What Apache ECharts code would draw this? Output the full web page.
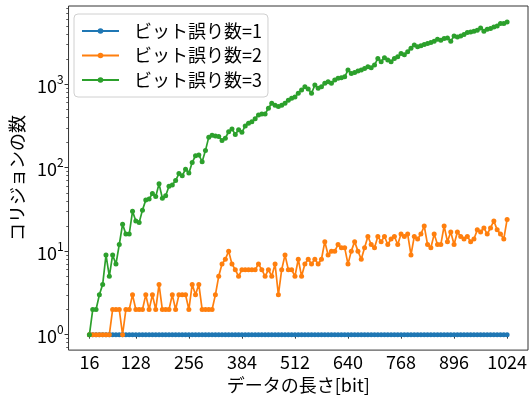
<!DOCTYPE html>
<html>
<head>
<meta charset="utf-8">
<script src="https://cdn.jsdelivr.net/npm/echarts@6/dist/echarts.min.js"></script>
<style>
  html, body { margin: 0; padding: 0; background: #fff; }
  #chart { width: 530px; height: 399px; }
</style>
</head>
<body>
<div id="chart"></div>
<script>
// Data length in bits (one measurement every 8 bits)
const lengths = [
  16, 24, 32, 40, 48, 56, 64, 72, 80, 88, 96, 104, 112, 120, 128, 136,
  144, 152, 160, 168, 176, 184, 192, 200, 208, 216, 224, 232, 240, 248, 256, 264,
  272, 280, 288, 296, 304, 312, 320, 328, 336, 344, 352, 360, 368, 376, 384, 392,
  400, 408, 416, 424, 432, 440, 448, 456, 464, 472, 480, 488, 496, 504, 512, 520,
  528, 536, 544, 552, 560, 568, 576, 584, 592, 600, 608, 616, 624, 632, 640, 648,
  656, 664, 672, 680, 688, 696, 704, 712, 720, 728, 736, 744, 752, 760, 768, 776,
  784, 792, 800, 808, 816, 824, 832, 840, 848, 856, 864, 872, 880, 888, 896, 904,
  912, 920, 928, 936, 944, 952, 960, 968, 976, 984, 992, 1000, 1008, 1016, 1024
];

// Number of collisions, 1-bit errors
const collisions1 = [
  1, 1, 1, 1, 1, 1, 1, 1, 1, 1, 1, 1, 1, 1, 1, 1,
  1, 1, 1, 1, 1, 1, 1, 1, 1, 1, 1, 1, 1, 1, 1, 1,
  1, 1, 1, 1, 1, 1, 1, 1, 1, 1, 1, 1, 1, 1, 1, 1,
  1, 1, 1, 1, 1, 1, 1, 1, 1, 1, 1, 1, 1, 1, 1, 1,
  1, 1, 1, 1, 1, 1, 1, 1, 1, 1, 1, 1, 1, 1, 1, 1,
  1, 1, 1, 1, 1, 1, 1, 1, 1, 1, 1, 1, 1, 1, 1, 1,
  1, 1, 1, 1, 1, 1, 1, 1, 1, 1, 1, 1, 1, 1, 1, 1,
  1, 1, 1, 1, 1, 1, 1, 1, 1, 1, 1, 1, 1, 1, 1
];

// Number of collisions, 2-bit errors
const collisions2 = [
  1, 1, 1, 1, 1, 1, 1, 2, 2, 2,
  1, 2, 2, 3, 2, 2, 2, 3, 2, 3,
  2, 4, 2, 2, 2, 3, 2, 3, 3, 3,
  2, 4, 3, 4, 2, 2, 2, 2, 3, 5,
  7, 8, 10, 7, 6, 5, 6, 6, 6, 6,
  6, 7, 6, 5, 6, 5, 7, 3, 6, 9,
  6, 6, 5, 8, 5, 7, 8, 7, 8, 7,
  8, 13, 9, 10, 10, 12, 11, 11, 7, 10,
  13, 10, 8, 11, 15, 12, 11, 15, 13, 15,
  12, 14, 15, 12, 16, 15, 16, 9, 15, 14,
  16, 20, 12, 11, 16, 12, 12, 20, 13, 17,
  12, 17, 15, 14, 15, 13, 14, 18, 17, 19,
  16, 19, 23, 18, 16, 14, 24
];

// Number of collisions, 3-bit errors
const collisions3 = [
  1, 2, 2, 3, 4, 9, 5, 9, 7, 12,
  21, 16, 16, 30, 23, 22, 31, 41, 42, 49,
  45, 64, 43, 46, 60, 62, 70, 85, 80, 96,
  86, 115, 139, 142, 118, 160, 232, 245, 240, 236,
  211, 225, 270, 290, 250, 285, 265, 316, 340, 355,
  385, 428, 440, 440, 514, 590, 560, 540, 560, 590,
  640, 676, 700, 780, 851, 931, 875, 777, 975, 891,
  931, 1022, 1068, 1022, 1119, 1173, 1194, 1225, 1473, 1345,
  1381, 1433, 1473, 1543, 1616, 1570, 1692, 2033, 1854, 2066,
  1941, 1854, 2033, 2124, 2329, 2250, 2450, 2700, 2950, 2800,
  2875, 2983, 3066, 3150, 3268, 3453, 3360, 3517, 3583, 3268,
  3785, 3681, 3785, 3926, 4150, 4226, 4304, 4424, 4715, 4304,
  4543, 4632, 4843, 4982, 5312, 5312, 5560
];

const seriesNames = ['ビット誤り数=1', 'ビット誤り数=2', 'ビット誤り数=3'];
const xTickValues = [16, 128, 256, 384, 512, 640, 768, 896, 1024];
const yDecadeExponents = [0, 1, 2, 3];

const colors = ['#1f77b4', '#ff7f0e', '#2ca02c'];
const FONT = '"Noto Sans CJK JP", "Noto Sans", sans-serif';

// Axis extents (x in bits, y in decades of the log scale)
const xMin = -34.4, xMax = 1074.4;
const yLogMin = -0.185, yLogMax = 3.936;

// Minor ticks of a base-10 log axis: 2..9 x 10^n, expressed in decades
const minorDecades = [];
for (let n = -1; n <= 3; n++) {
  for (let k = 2; k <= 9; k++) {
    const d = Math.log10(k * Math.pow(10, n));
    if (d > yLogMin && d < yLogMax) minorDecades.push(d);
  }
}

const collisionSets = [collisions1, collisions2, collisions3];

const chart = echarts.init(document.getElementById('chart'), null, { renderer: 'canvas' });

chart.setOption({
  animation: false,
  backgroundColor: '#fff',
  grid: {
    left: 64, right: 2, top: 6, bottom: 48,
    show: true, borderColor: '#333', borderWidth: 1, backgroundColor: 'transparent'
  },
  legend: {
    orient: 'vertical',
    left: 74, top: 14,
    itemWidth: 37, itemHeight: 7, itemGap: 6.5, itemTextGap: 16,
    padding: [8, 6, 8, 7],
    backgroundColor: 'rgba(255,255,255,0.8)',
    borderColor: '#d0d0d0', borderWidth: 1, borderRadius: 4,
    textStyle: { fontFamily: FONT, fontSize: 18, color: '#000', lineHeight: 18, padding: [0, 0, 0, 10] },
    data: seriesNames
  },
  xAxis: {
    type: 'value',
    min: xMin, max: xMax,
    name: 'データの長さ[bit]',
    nameLocation: 'middle',
    nameGap: 21,
    nameTextStyle: { fontFamily: FONT, fontSize: 18, color: '#000', verticalAlign: 'top' },
    axisLine: { show: false },
    splitLine: { show: false },
    axisTick: { show: true, inside: false, length: 4, customValues: xTickValues,
                lineStyle: { color: '#333', width: 1 } },
    axisLabel: { customValues: xTickValues, margin: 3, formatter: v => String(Math.round(v)),
                 fontFamily: FONT, fontSize: 18, color: '#000' }
  },
  yAxis: [
    {
      // data axis (logarithmic)
      type: 'log', logBase: 10,
      min: Math.pow(10, yLogMin), max: Math.pow(10, yLogMax),
      position: 'left',
      axisLine: { show: false }, axisTick: { show: false },
      axisLabel: { show: false }, splitLine: { show: false }, minorTick: { show: false }
    },
    {
      // decade ticks and labels
      type: 'value', min: yLogMin, max: yLogMax, position: 'left',
      name: 'コリジョンの数',
      nameLocation: 'middle', nameGap: 37, nameRotate: 90,
      nameTextStyle: { fontFamily: FONT, fontSize: 18, color: '#000' },
      axisLine: { show: false }, splitLine: { show: false },
      axisTick: { show: true, inside: false, length: 4, customValues: yDecadeExponents,
                  lineStyle: { color: '#333', width: 1 } },
      axisLabel: {
        customValues: yDecadeExponents, margin: 5,
        formatter: v => '{b|10}{s|' + Math.round(v) + '}',
        rich: {
          b: { fontFamily: FONT, fontSize: 18, color: '#000', lineHeight: 22, verticalAlign: 'bottom' },
          s: { fontFamily: FONT, fontSize: 12, color: '#000', lineHeight: 22, verticalAlign: 'top' }
        }
      }
    },
    {
      // minor ticks between decades
      type: 'value', min: yLogMin, max: yLogMax, position: 'left',
      axisLine: { show: false }, splitLine: { show: false },
      axisTick: { show: true, inside: false, length: 2.3, customValues: minorDecades,
                  lineStyle: { color: '#333', width: 0.8 } },
      axisLabel: { show: false }
    }
  ],
  series: collisionSets.map((vals, s) => ({
    name: seriesNames[s],
    type: 'line',
    yAxisIndex: 0,
    data: lengths.map((len, i) => [len, vals[i]]),
    color: colors[s],
    symbol: 'circle',
    symbolSize: 5,
    showSymbol: true,
    lineStyle: { width: 1.7, color: colors[s] },
    itemStyle: { color: colors[s] },
    emphasis: { disabled: true }
  }))
});
</script>
</body>
</html>
